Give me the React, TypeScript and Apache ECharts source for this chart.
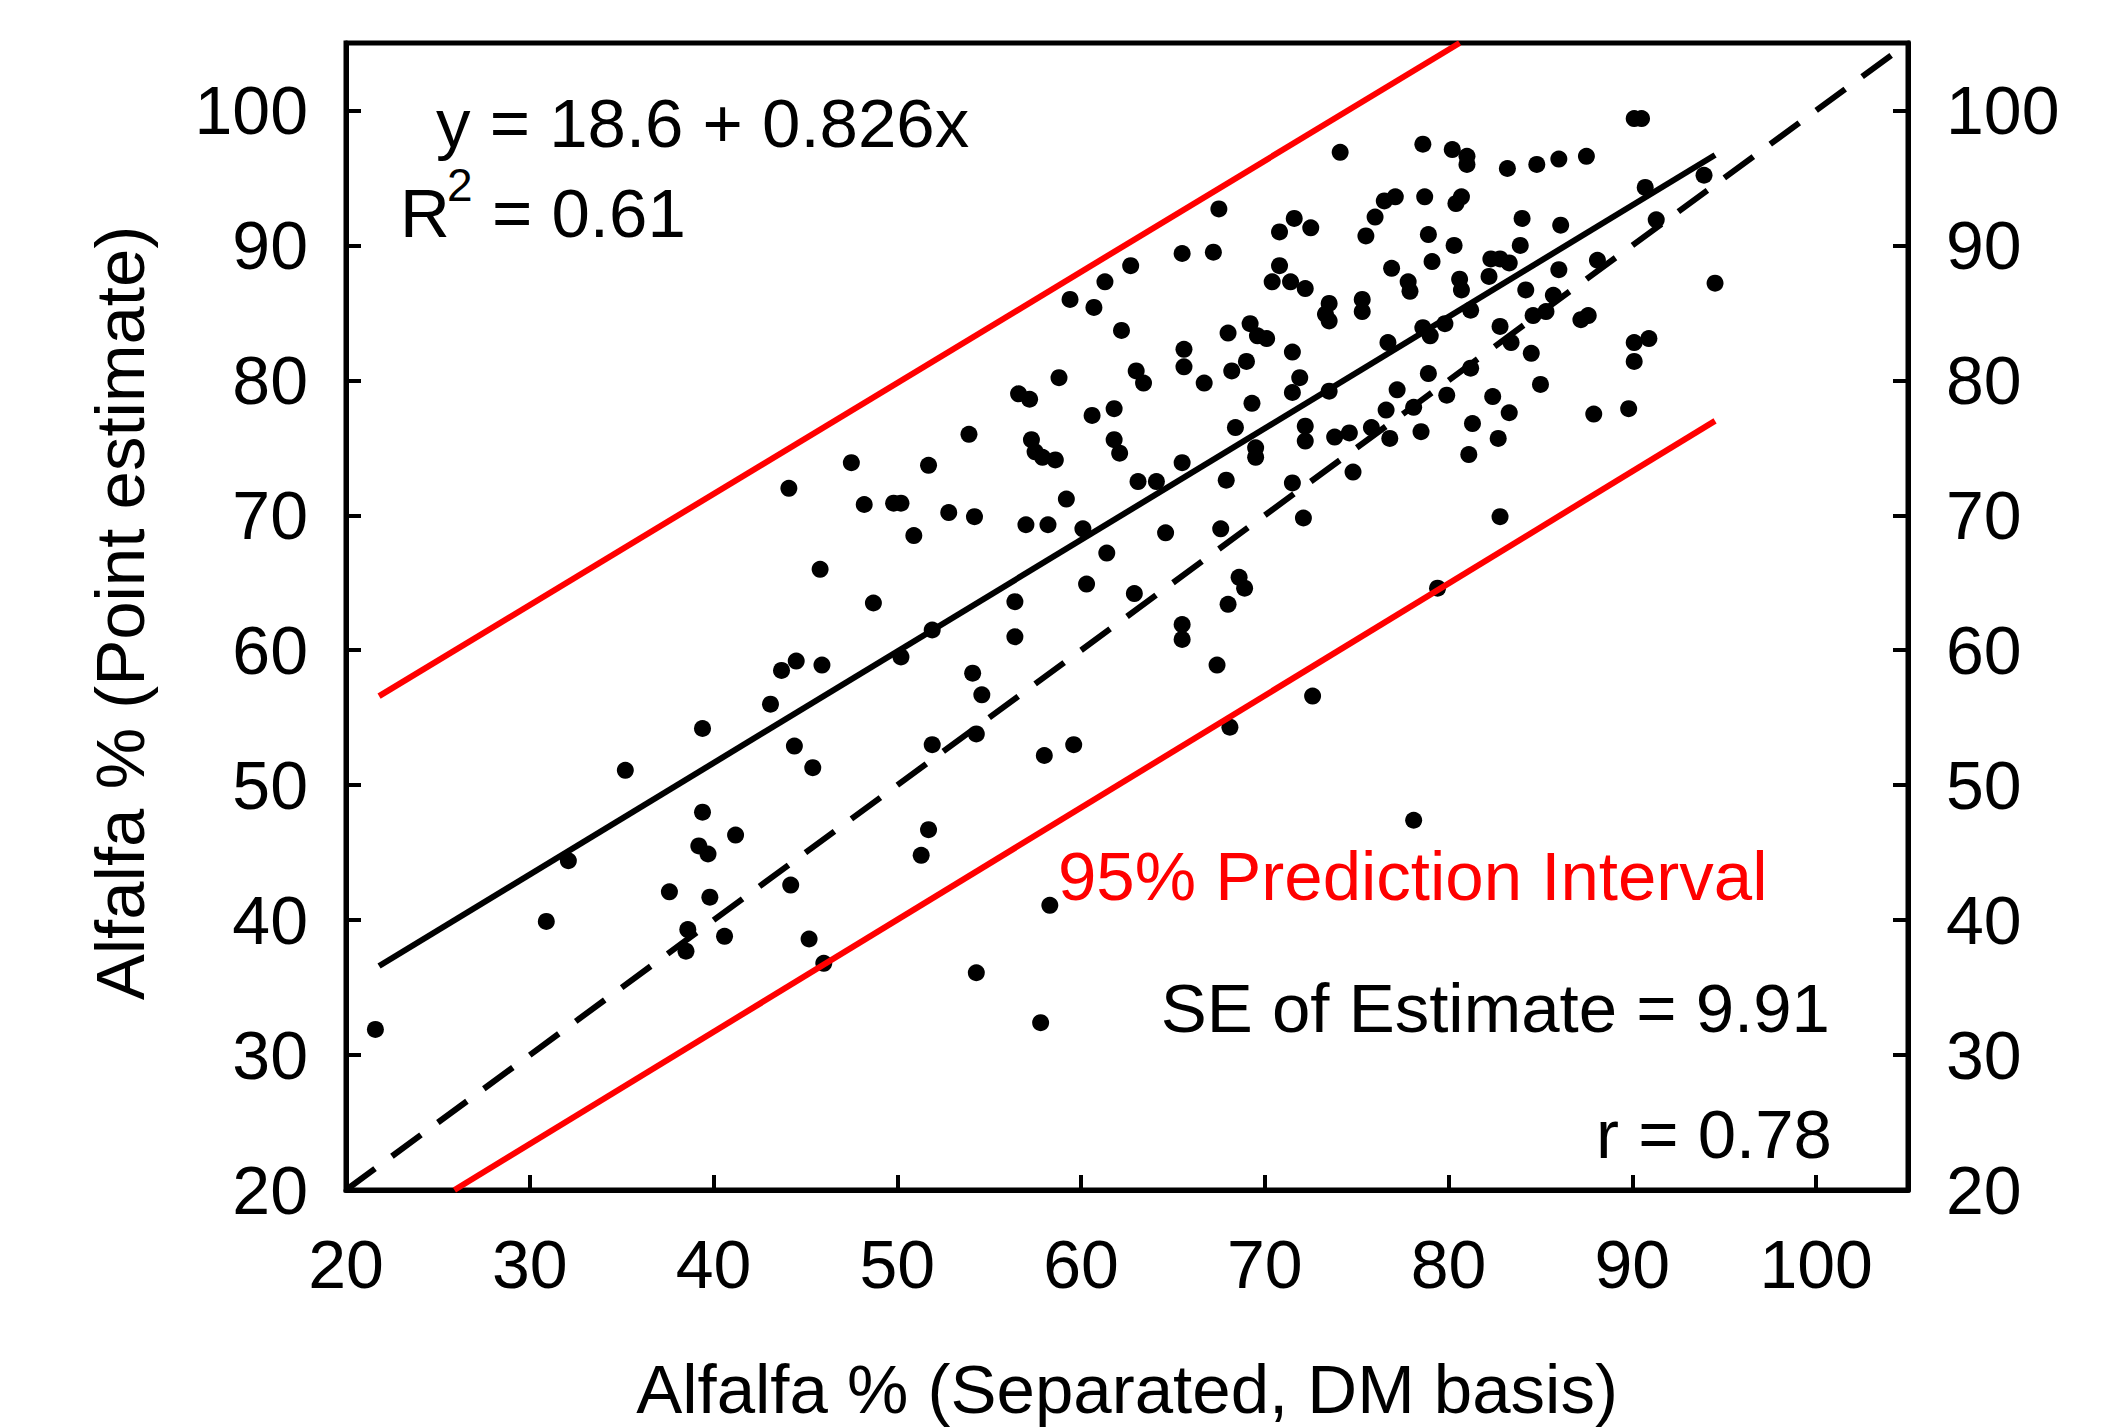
import React, { useEffect, useRef } from "react";
import * as echarts from "echarts";

// Alfalfa % (Separated, DM basis)
const separated: number[] = [
  21.6, 30.9, 32.1, 35.2, 37.6, 38.6, 38.5, 39.4, 39.4, 39.2, 39.7, 39.8, 40.6, 41.2, 43.1, 43.7, 44.2, 44.4, 45.4, 45.2, 46.0, 44.1, 44.5, 45.9, 45.8,
  62.7, 61.3, 59.4, 60.7, 62.2, 63.0, 63.4, 58.8, 56.6, 57.2, 60.6, 61.8, 53.9, 57.3, 57.5, 57.9, 58.6, 61.8, 62.1, 47.5, 51.7, 63.1, 64.1, 59.2,
  48.2, 49.8, 50.2, 52.8, 54.2, 57.0, 58.2, 60.1, 50.9, 64.6, 61.4, 60.3, 62.9, 48.7, 56.4, 65.5, 65.5, 51.9, 56.4, 50.2, 54.1, 54.6, 67.4, 67.6,
  54.3, 51.9, 58.0, 59.6, 51.7, 51.3, 58.3, 54.3, 57.8,
  74.1, 78.6, 80.2, 81.0, 81.0, 83.2, 84.8, 86.0, 67.5, 65.5, 67.2, 70.8, 71.6, 72.5, 70.8, 70.4, 71.4, 72.2, 75.5, 76.0, 76.5, 77.1, 78.7, 80.4,
  80.7, 78.9, 84.0, 86.1, 80.3, 79.1, 76.9, 83.9, 82.3, 82.8, 83.3, 86.0, 82.2, 80.6, 80.7, 77.8, 77.9, 84.2, 85.7, 81.2, 84.6, 85.3,
  73.5, 73.3, 73.5, 75.3, 75.3, 78.6, 79.0, 79.8, 76.7, 82.8, 83.4, 84.5, 65.6, 65.6, 68.0, 69.2, 69.6, 70.1, 71.5, 69.0, 68.2, 66.7, 71.9, 71.5,
  69.3, 73.5, 77.2, 78.9, 81.2, 85.0, 79.9, 78.1, 76.6, 82.4, 83.3, 68.4, 72.2, 72.2, 69.5, 69.5, 73.8, 74.6, 75.8, 76.8, 78.5, 81.3, 82.7, 81.1,
  65.5, 67.9, 74.8, 71.5, 72.1, 82.8,
  68.6, 68.9, 68.0, 72.6, 68.1, 79.4, 78.1,
  90.1, 90.5, 87.5, 90.7, 93.9, 91.3, 88.1, 87.2, 87.6, 94.5, 90.1, 90.9, 90.1, 87.9, 89.8,
];

// Alfalfa % (Point estimate)
const pointEstimate: number[] = [
  31.9, 39.9, 44.4, 51.1, 42.1, 39.3, 37.7, 54.2, 48.0, 45.5, 44.9, 41.7, 38.8, 46.3, 56.0, 58.5, 42.6, 52.9, 51.3, 38.6, 36.8, 72.0, 59.2, 58.9, 66.0,
  88.5, 87.3, 86.0, 85.4, 83.7, 80.7, 79.8, 80.2, 79.0, 78.6, 77.4, 77.9, 76.0, 75.6, 74.7, 74.3, 74.1, 75.6, 74.6, 73.9, 73.7, 72.5, 72.5, 71.2,
  70.8, 70.9, 70.9, 70.2, 69.9, 69.3, 69.3, 69.0, 68.5, 68.7, 67.2, 64.9, 64.2, 63.5, 63.6, 61.9, 60.8, 61.5, 61.0, 59.5, 58.3, 56.7, 58.9, 69.0,
  53.8, 53.0, 52.2, 53.0, 46.7, 44.8, 41.1, 36.1, 32.4,
  96.9, 97.5, 97.1, 96.6, 96.0, 95.7, 96.0, 96.4, 92.7, 89.4, 89.5, 91.0, 92.0, 91.3, 88.5, 87.3, 87.3, 86.8, 90.7, 92.1, 93.3, 93.6, 93.6, 93.1,
  93.6, 90.8, 92.0, 91.5, 90.0, 88.8, 88.3, 90.0, 89.0, 89.0, 88.7, 88.2, 87.7, 87.5, 86.7, 87.3, 86.6, 86.7, 86.3, 85.2, 84.8, 85.1,
  85.7, 84.9, 84.4, 86.0, 85.1, 83.9, 83.3, 84.2, 82.8, 84.0, 82.8, 82.0, 82.3, 81.0, 83.5, 84.2, 83.3, 83.1, 82.1, 81.4, 80.7, 79.8, 80.2, 79.1,
  78.3, 79.2, 79.3, 80.5, 80.9, 79.7, 78.9, 78.0, 77.8, 78.8, 77.6, 76.5, 76.6, 75.5, 75.0, 74.3, 75.8, 76.1, 76.5, 75.7, 76.2, 76.8, 75.7, 74.5,
  73.9, 72.6, 73.2, 72.4, 69.8, 69.9,
  65.4, 64.6, 63.4, 56.6, 54.3, 64.6, 47.4,
  99.4, 99.4, 96.6, 94.3, 95.2, 91.9, 88.9, 84.5, 84.8, 87.2, 82.8, 83.1, 81.4, 77.5, 77.9,
];

// Fitted regression line y = 18.6 + 0.826x (end points)
const regressionLine: number[][] = [[21.8, 36.6], [94.5, 96.7]];
// 1:1 line
const identityLine: number[][] = [[20, 20], [105, 105]];
// 95% prediction interval bounds (end points)
const upperPI: number[][] = [[21.8, 56.6], [80.6, 105]];
const lowerPI: number[][] = [[25.9, 20], [94.5, 77.0]];

const axisTicks = { min: 20, max: 105, interval: 10 };

const FONT = "'Liberation Sans', Arial, Helvetica, sans-serif";

export default function App() {
  const ref = useRef<HTMLDivElement>(null);

  useEffect(() => {
    if (!ref.current) return;
    const chart = echarts.init(ref.current, undefined, { renderer: "svg" });

    const axisCommon = {
      type: "value" as const,
      min: axisTicks.min,
      max: axisTicks.max,
      interval: axisTicks.interval,
      splitLine: { show: false },
      axisLine: { show: true, onZero: false, lineStyle: { color: "#000", width: 5 } },
      axisTick: { show: true, inside: true, length: 15, lineStyle: { color: "#000", width: 4 } },
      axisLabel: {
        show: true,
        color: "#000",
        fontSize: 68,
        fontFamily: FONT,
        margin: 38,
        showMaxLabel: false,
      },
    };

    const textStyle = (text: string, opts: any) => ({
      type: "text",
      silent: true,
      ...opts.pos,
      style: {
        text,
        fill: opts.color || "#000",
        fontSize: opts.size || 69,
        fontFamily: FONT,
        align: opts.align || "left",
        verticalAlign: "middle",
        textAlign: opts.align || "left",
        textVerticalAlign: "middle",
      },
    });

    chart.setOption({
      animation: false,
      backgroundColor: "#fff",
      grid: {
        left: 346,
        right: 205,
        top: 43,
        bottom: 237,
        show: true,
        borderColor: "#000",
        borderWidth: 5,
        backgroundColor: "transparent",
      },
      xAxis: { ...axisCommon, position: "bottom", axisLabel: { ...axisCommon.axisLabel, margin: 40 } },
      yAxis: [
        { ...axisCommon, position: "left" },
        { ...axisCommon, position: "right" },
      ],
      series: [
        {
          type: "scatter",
          data: separated.map((x, i) => [x, pointEstimate[i]]),
          symbol: "circle",
          symbolSize: 17,
          itemStyle: { color: "#000", opacity: 1 },
          z: 2,
        },
        {
          type: "line",
          data: identityLine,
          showSymbol: false,
          symbol: "none",
          lineStyle: { color: "#000", width: 6, type: [36, 21] },
          z: 3,
        },
        {
          type: "line",
          data: regressionLine,
          showSymbol: false,
          symbol: "none",
          lineStyle: { color: "#000", width: 6 },
          z: 3,
        },
        {
          type: "line",
          data: upperPI,
          showSymbol: false,
          symbol: "none",
          lineStyle: { color: "#ff0000", width: 6 },
          z: 3,
        },
        {
          type: "line",
          data: lowerPI,
          showSymbol: false,
          symbol: "none",
          lineStyle: { color: "#ff0000", width: 6 },
          z: 3,
        },
      ],
      graphic: [
        textStyle("y = 18.6 + 0.826x", { pos: { x: 436, y: 123 } }),
        textStyle("R", { pos: { x: 400, y: 213 } }),
        textStyle("2", { pos: { x: 447, y: 185 }, size: 46 }),
        textStyle("= 0.61", { pos: { x: 492, y: 213 } }),
        textStyle("95% Prediction Interval", { pos: { x: 1058, y: 876 }, color: "#ff0000" }),
        textStyle("SE of Estimate = 9.91", { pos: { x: 1830, y: 1008 }, align: "right" }),
        textStyle("r = 0.78", { pos: { x: 1832, y: 1134 }, align: "right" }),
        textStyle("Alfalfa % (Separated, DM basis)", { pos: { x: 1127, y: 1389 }, align: "center" }),
        textStyle("Alfalfa % (Point estimate)", {
          pos: { x: 120, y: 613, rotation: Math.PI / 2 },
          align: "center",
        }),
      ],
    });

    return () => chart.dispose();
  }, []);

  return (
    <div
      ref={ref}
      style={{ position: "absolute", left: 0, top: 0, width: 2113, height: 1427, background: "#fff" }}
    />
  );
}
